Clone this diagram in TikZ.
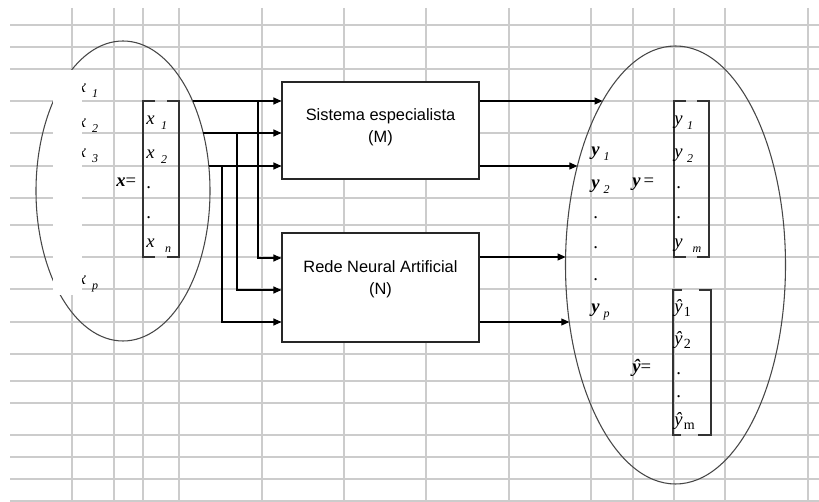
\documentclass[tikz,border=0pt]{standalone}
\usepackage{fontspec}
\setmainfont{Liberation Serif}
\newfontfamily\boxfont{Liberation Sans}
\usetikzlibrary{arrows.meta,calc,shapes.geometric}

% font sizes for the vector entries
\newcommand\mainsz{\fontsize{14}{14}\selectfont}
\newcommand\subsz{\fontsize{9}{9}\selectfont}
% italic letter with a lowered italic index: letter, index, gap
\newcommand\vent[3]{{\mainsz\itshape #1}\hspace{#3}\raisebox{-3.5pt}{\subsz\itshape #2}}
% bold italic letter with a lowered italic index
\newcommand\bvent[3]{{\mainsz\bfseries\itshape #1}\hspace{#3}\raisebox{-3.5pt}{\subsz\itshape #2}}
% estimate with an upright index
\newcommand\hent[3]{{\mainsz\itshape #1}\hspace{#3}\raisebox{-3pt}{\fontsize{10.5}{10.5}\selectfont #2}}

\begin{document}
\begin{tikzpicture}[x=0.75pt,y=-0.75pt,
  gridline/.style={draw=gray!40, line width=1.1pt},
  outline/.style={draw=black!72, line width=0.8pt, ellipse, inner sep=0pt},
  bracket/.style={draw=black!80, line width=0.8pt},
  block/.style={draw=black!85, fill=white, line width=0.8pt, inner sep=0pt, rectangle},
  wire/.style={draw=black, line width=0.9pt},
  arr/.style={wire, -{Triangle[length=6pt,width=5.2pt]}},
  ent/.style={inner sep=0pt, anchor=base west},
  boxtext/.style={inner sep=0pt, anchor=base, font=\boxfont\fontsize{12.3}{12.3}\selectfont},
  lbl/.style={inner sep=0pt, anchor=base west, font=\mainsz}
]

\useasboundingbox (0,0) rectangle (819,502);
\fill[white] (0,0) rectangle (819,502);

% spreadsheet grid
\foreach \gx in {72,114,143,179,262,344,426,509,591,633,674,725,808}
  \draw[gridline] (\gx,8) -- (\gx,502);
\foreach \gy in {25,47,69,101,133,166,198,225,257,289,322,354,381,403,435,457,479,501}
  \draw[gridline] (10,\gy) -- (819,\gy);

% input and output sets
\node[outline, minimum width=130.5pt, minimum height=225pt] (inset) at (123,191) {};
\node[outline, minimum width=165pt, minimum height=328.5pt] (outset) at (675.5,265) {};

% input variables, partly covered
\node[ent] (xa) at (77.5,93)  {\vent{x}{1}{4.5pt}};
\node[ent] (xb) at (77.5,128) {\vent{x}{2}{4.5pt}};
\node[ent] (xc) at (77.5,158) {\vent{x}{3}{4.5pt}};
\node[ent] (xd) at (77.5,285) {\vent{x}{p}{4.5pt}};
\fill[white] (53,70) rectangle (82,295);

% input vector x
\node[lbl] (xeq) at (116,187) {{\bfseries\itshape x}=};
\draw[bracket] (155,101) -- (143,101) -- (143,257) -- (155,257);
\draw[bracket] (167,101) -- (179,101) -- (179,257) -- (167,257);
\node[ent] (x1) at (146,125) {\vent{x}{1}{5pt}};
\node[ent] (x2) at (146,159) {\vent{x}{2}{5pt}};
\node[lbl] (xd1) at (146,189) {.};
\node[lbl] (xd2) at (146,219) {.};
\node[ent] (xn) at (146,248) {\vent{x}{n}{8pt}};

% the two models
\node[block, minimum width=147.75pt, minimum height=72.75pt] (M) at (380.5,130.5) {};
\node[boxtext] (Mt1) at (380.5,121) {Sistema especialista};
\node[boxtext] (Mt2) at (380.5,143) {(M)};
\node[block, minimum width=147.75pt, minimum height=81.75pt] (N) at (380.5,287.5) {};
\node[boxtext] (Nt1) at (380.5,273) {Rede Neural Artificial};
\node[boxtext] (Nt2) at (380.5,295) {(N)};

% inputs fed to both models
\coordinate (i1) at (192.6,101);
\coordinate (i2) at (203.2,133);
\coordinate (i3) at (208.8,166);
\coordinate (b1) at (258,101);
\coordinate (b2) at (237,133);
\coordinate (b3) at (222,166);
\draw[arr] (i1) -- (M.west |- i1);
\draw[arr] (i2) -- (M.west |- i2);
\draw[arr] (i3) -- (M.west |- i3);
\draw[arr] (b1) |- (N.west |- 0,258);
\draw[arr] (b2) |- (N.west |- 0,290);
\draw[arr] (b3) |- (N.west |- 0,322);

% model outputs
\coordinate (o1) at (602.6,101);
\coordinate (o2) at (577.4,166);
\coordinate (o3) at (565.6,257);
\coordinate (o4) at (569.3,322);
\draw[arr] (M.east |- o1) -- (o1);
\draw[arr] (M.east |- o2) -- (o2);
\draw[arr] (N.east |- o3) -- (o3);
\draw[arr] (N.east |- o4) -- (o4);

% output variables
\node[ent] (ya) at (591,156) {\bvent{y}{1}{3pt}};
\node[ent] (yb) at (591,189) {\bvent{y}{2}{3pt}};
\node[lbl] (yd1) at (593,219) {.};
\node[lbl] (yd2) at (593,249) {.};
\node[lbl] (yd3) at (593,281) {.};
\node[ent] (yp) at (591,313) {\bvent{y}{p}{3pt}};

% output vector y
\node[lbl] (yeq) at (632,187) {{\bfseries\itshape y}\,=};
\draw[bracket] (686,101) -- (674,101) -- (674,257) -- (686,257);
\draw[bracket] (697,101) -- (709,101) -- (709,257) -- (697,257);
\node[ent] (y1) at (674,125) {\vent{y}{1}{3.5pt}};
\node[ent] (y2) at (674,158) {\vent{y}{2}{3.5pt}};
\node[lbl] (yv1) at (676,189) {.};
\node[lbl] (yv2) at (676,219) {.};
\node[ent] (ym) at (674,248) {\vent{y}{m}{7.5pt}};

% estimated vector
\node[lbl] (heq) at (632,373) {{\bfseries\itshape ŷ}=};
\draw[bracket] (682,290) -- (673,290) -- (673,435) -- (681,435);
\draw[bracket] (699,290) -- (711,290) -- (711,435) -- (698,435);
\node[ent] (h1) at (674,313) {\hent{ŷ}{1}{1pt}};
\node[ent] (h2) at (674,345) {\hent{ŷ}{2}{1pt}};
\node[lbl] (hv1) at (676,375) {.};
\node[lbl] (hv2) at (676,398) {.};
\node[ent] (hm) at (674,426) {\hent{ŷ}{m}{1pt}};

\end{tikzpicture}
\end{document}
